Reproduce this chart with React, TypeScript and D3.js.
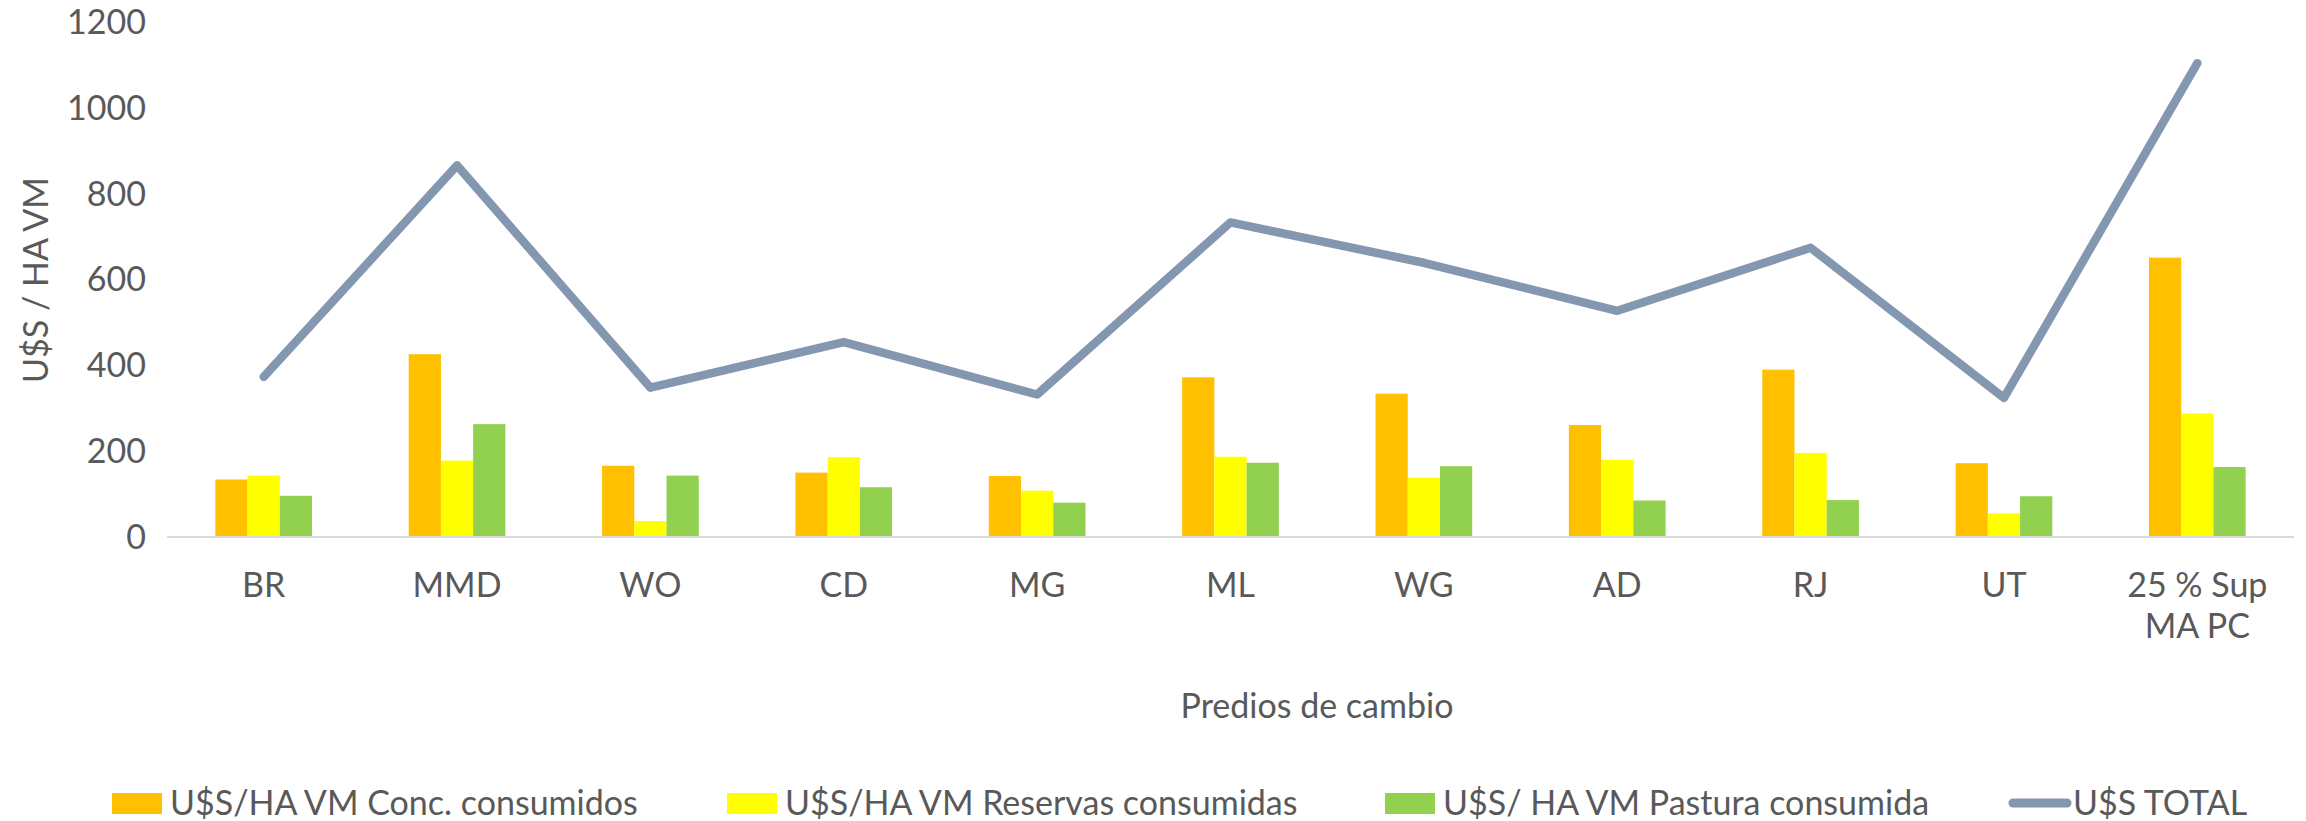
import React from 'react';
import * as d3 from 'd3';

// costos por hectarea VM, predios de cambio

const categories = ['BR', 'MMD', 'WO', 'CD', 'MG', 'ML', 'WG', 'AD', 'RJ', 'UT', '25 % Sup MA PC'];
const concentrados = [134, 426, 166, 150, 142, 372, 334, 261, 390, 172, 651];
const reservas = [143, 178, 37, 186, 108, 187, 138, 180, 196, 55, 288];
const pastura = [96, 263, 143, 116, 80, 173, 165, 85, 86, 95, 163];
const total = [373, 866, 348, 454, 332, 733, 639, 527, 674, 324, 1104];
const yTicks = [0, 200, 400, 600, 800, 1000, 1200];

const barSeries = [
  { name: 'U$S/HA VM Conc. consumidos', values: concentrados, color: '#FFC000' },
  { name: 'U$S/HA VM Reservas consumidas', values: reservas, color: '#FFFF00' },
  { name: 'U$S/ HA VM Pastura consumida', values: pastura, color: '#92D050' },
];
const lineName = 'U$S TOTAL';
const lineColor = '#8497B0';

const width = 2306;
const height = 821;
const textColor = '#595959';
const font = 'Lato, "Open Sans", sans-serif';
const fontSize = 34;

export default function App() {
  const x = d3.scaleBand().domain(categories).range([167, 2294]).paddingInner(0).paddingOuter(0);
  const y = d3.scaleLinear().domain([0, 1200]).range([537, 22]);
  const groupW = x.bandwidth() * 0.5;
  const x1 = d3.scaleBand().domain(barSeries.map((s) => s.name)).range([0, groupW]);

  const line = d3.line<number>()
    .x((d, i) => x(categories[i])! + x.bandwidth() / 2)
    .y((d) => y(d));

  // legend item x offsets (swatch start)
  const legendX = [112, 727, 1385, 2009];

  return (
    <svg width={width} height={height} style={{ position: 'absolute', left: 0, top: 0, background: '#fff' }}
      fontFamily={font} fill={textColor}>
      {/* y ticks */}
      {yTicks.map((t) => (
        <text key={t} x={146} y={y(t)} dy="0.35em" textAnchor="end" fontSize={fontSize}>{t}</text>
      ))}
      <text transform={`translate(36,280) rotate(-90)`} textAnchor="middle" dy="0.35em" fontSize={fontSize}>U$S / HA VM</text>

      {/* bars */}
      {barSeries.map((s) => (
        <g key={s.name}>
          {s.values.map((v, i) => (
            <rect key={i}
              x={x(categories[i])! + (x.bandwidth() - groupW) / 2 + x1(s.name)!}
              y={y(v)} width={x1.bandwidth()} height={y(0) - y(v)}
              fill={s.color} />
          ))}
        </g>
      ))}

      {/* baseline */}
      <line x1={167} x2={2294} y1={y(0)} y2={y(0)} stroke="#D9D9D9" strokeWidth={2} />

      {/* total line */}
      <path d={line(total)!} fill="none" stroke={lineColor} strokeWidth={8.5} strokeLinecap="round" strokeLinejoin="round" />

      {/* x labels */}
      {categories.map((c) => {
        const cx = x(c)! + x.bandwidth() / 2;
        if (c === '25 % Sup MA PC') {
          return (
            <text key={c} x={cx} y={585} textAnchor="middle" fontSize={fontSize}>
              <tspan x={cx} dy="0.35em">25 % Sup</tspan>
              <tspan x={cx} dy="1.2em">MA PC</tspan>
            </text>
          );
        }
        return <text key={c} x={cx} y={585} dy="0.35em" textAnchor="middle" fontSize={fontSize}>{c}</text>;
      })}
      <text x={1317} y={706} dy="0.35em" textAnchor="middle" fontSize={fontSize}>Predios de cambio</text>

      {/* legend */}
      {barSeries.map((s, i) => (
        <g key={s.name} transform={`translate(${legendX[i]},803)`}>
          <rect x={0} y={-10} width={50} height={21} fill={s.color} />
          <text x={58} y={0} dy="0.35em" fontSize={fontSize}>{s.name}</text>
        </g>
      ))}
      <g transform={`translate(${legendX[3]},803)`}>
        <line x1={4} x2={58} y1={0} y2={0} stroke={lineColor} strokeWidth={9} strokeLinecap="round" />
        <text x={64} y={0} dy="0.35em" fontSize={fontSize}>{lineName}</text>
      </g>
    </svg>
  );
}
